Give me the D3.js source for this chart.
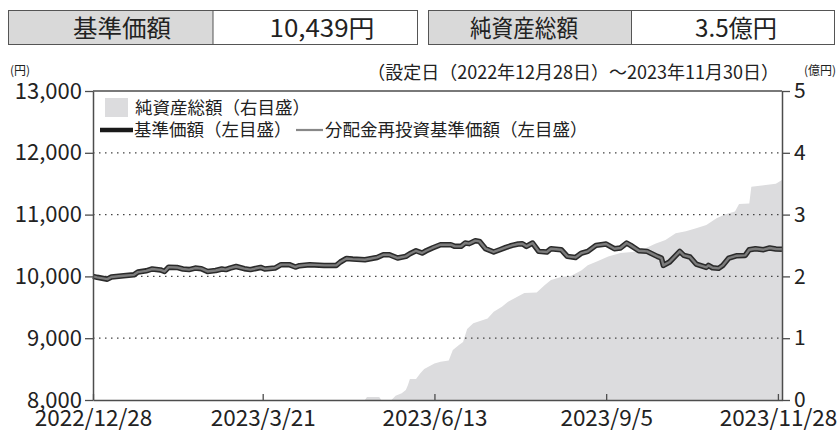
<!DOCTYPE html>
<html>
<head>
<meta charset="utf-8">
<script src="https://cdn.jsdelivr.net/npm/d3@7"></script>
<style>
  html, body { margin: 0; padding: 0; background: #fff; }
  svg { display: block; font-family: "Noto Sans CJK JP", "Noto Sans", sans-serif; }
</style>
</head>
<body>
<svg id="chart" width="837" height="431"></svg>
<script>
// 基準価額 / 分配金再投資基準価額 (円)
const navDates = [
  "2022-12-28","2022-12-30","2023-01-04","2023-01-06","2023-01-12","2023-01-17","2023-01-19","2023-01-23","2023-01-26","2023-01-30",
  "2023-02-01","2023-02-03","2023-02-07","2023-02-10","2023-02-13","2023-02-16","2023-02-19","2023-02-22","2023-02-26","2023-03-01",
  "2023-03-03","2023-03-05","2023-03-08","2023-03-12","2023-03-15","2023-03-20","2023-03-22","2023-03-27","2023-03-30","2023-04-03",
  "2023-04-06","2023-04-08","2023-04-13","2023-04-20","2023-04-26","2023-04-28","2023-05-01","2023-05-04","2023-05-10","2023-05-16",
  "2023-05-19","2023-05-22","2023-05-26","2023-05-30","2023-06-01","2023-06-04","2023-06-07","2023-06-09","2023-06-12","2023-06-16",
  "2023-06-21","2023-06-23","2023-06-26","2023-06-28","2023-06-30","2023-07-03","2023-07-05","2023-07-08","2023-07-12","2023-07-15",
  "2023-07-18","2023-07-21","2023-07-24","2023-07-26","2023-07-28","2023-07-31","2023-08-03","2023-08-07","2023-08-09","2023-08-14",
  "2023-08-17","2023-08-21","2023-08-24","2023-08-27","2023-08-31","2023-09-05","2023-09-09","2023-09-12","2023-09-15","2023-09-17",
  "2023-09-21","2023-09-25","2023-09-30","2023-10-02","2023-10-03","2023-10-06","2023-10-11","2023-10-13","2023-10-16","2023-10-19",
  "2023-10-24","2023-10-25","2023-10-27","2023-10-30","2023-11-01","2023-11-04","2023-11-08","2023-11-12","2023-11-14","2023-11-17",
  "2023-11-21","2023-11-24","2023-11-27","2023-11-30"
];
const navValues = [
  10000, 9985, 9955, 9990,10010,10025,10070,10090,10120,10105,
  10080,10150,10145,10120,10110,10135,10125,10080,10095,10120,
  10110,10135,10160,10125,10110,10145,10120,10135,10190,10190,
  10152,10173,10190,10178,10178,10233,10290,10280,10270,10307,
  10350,10350,10297,10324,10367,10415,10378,10415,10460,10513,
  10513,10486,10486,10540,10530,10578,10567,10448,10395,10432,
  10470,10502,10524,10529,10486,10540,10405,10395,10448,10432,
  10324,10307,10378,10405,10502,10524,10448,10460,10540,10502,
  10415,10405,10324,10297,10178,10233,10405,10340,10314,10200,
  10146,10178,10140,10130,10178,10297,10335,10340,10432,10448,
  10432,10460,10443,10439
];

// 純資産総額 (億円)
const aumDates = [
  "2022-12-28","2023-05-10","2023-05-11","2023-05-17","2023-05-18","2023-05-23","2023-05-25","2023-05-28","2023-05-30","2023-05-31",
  "2023-06-01","2023-06-04","2023-06-06","2023-06-08","2023-06-13","2023-06-16","2023-06-20","2023-06-22","2023-06-25","2023-06-27",
  "2023-06-29","2023-07-02","2023-07-09","2023-07-12","2023-07-16","2023-07-19","2023-07-24","2023-07-27","2023-08-02","2023-08-06",
  "2023-08-09","2023-08-14","2023-08-19","2023-08-24","2023-08-27","2023-09-01","2023-09-06","2023-09-12","2023-09-19","2023-09-24",
  "2023-09-29","2023-10-04","2023-10-09","2023-10-14","2023-10-19","2023-10-24","2023-10-29","2023-11-02","2023-11-07","2023-11-09",
  "2023-11-14","2023-11-15","2023-11-22","2023-11-27","2023-11-30"
];
const aumValues = [
  0, 0, 0.05, 0.05, 0, 0, 0.07, 0.11, 0.16, 0.24,
  0.34, 0.34, 0.43, 0.50, 0.59, 0.62, 0.64, 0.81, 0.89, 0.94,
  1.15, 1.24, 1.32, 1.43, 1.51, 1.59, 1.68, 1.73, 1.74, 1.86,
  1.94, 1.99, 2.01, 2.10, 2.18, 2.25, 2.32, 2.38, 2.40, 2.45,
  2.53, 2.59, 2.70, 2.73, 2.78, 2.83, 2.94, 3.00, 3.05, 3.17,
  3.18, 3.45, 3.48, 3.50, 3.56
];

const xTickDates = ["2022-12-28","2023-03-21","2023-06-13","2023-09-05","2023-11-28"];
const leftTicks = [8000, 9000, 10000, 11000, 12000, 13000];
const rightTicks = [0, 1, 2, 3, 4, 5];
const gridTicks = [9000, 10000, 11000, 12000];

const headerLabels = ["基準価額", "純資産総額"];
const headerValues = ["10,439円", "3.5億円"];

const parse = d3.timeParse("%Y-%m-%d");
const fmtTick = d3.timeFormat("%Y/%-m/%-d");
const nav = navDates.map((d, i) => ({ date: parse(d), v: navValues[i] }));
const aum = aumDates.map((d, i) => ({ date: parse(d), v: aumValues[i] }));

const svg = d3.select("#chart");
const AXIS = "#4d4d4d";
const TEXT = "#222";

// plot frame
const L = 93, R = 782, T = 91, B = 400;

const x = d3.scaleTime()
  .domain([parse("2022-12-28"), parse("2023-11-30")])
  .range([L, R]);
const yL = d3.scaleLinear().domain([8000, 13000]).range([B, T]);
const yR = d3.scaleLinear().domain([0, 5]).range([B, T]);

// ---- header boxes ----
// label/value text widths & centres measured off the original (glyphs are condensed there)
const boxes = [
  { x: 8, w: 410, lc: 122, lw: 98, vc: 322, vw: 105 },
  { x: 428, w: 407, lc: 524, lw: 108, vc: 736, vw: 82 }
];
boxes.forEach((b, i) => {
  const g = svg.append("g");
  const half = b.w / 2;
  g.append("rect").attr("x", b.x).attr("y", 10).attr("width", half).attr("height", 35)
    .attr("fill", "#d9d9d9");
  g.append("rect").attr("x", b.x + 0.5).attr("y", 10.5).attr("width", b.w - 1).attr("height", 34)
    .attr("fill", "none").attr("stroke", "#555").attr("stroke-width", 1);
  g.append("line").attr("x1", b.x + half).attr("x2", b.x + half).attr("y1", 10).attr("y2", 45)
    .attr("stroke", "#555");
  g.append("text").attr("x", b.lc - b.lw / 2).attr("y", 37)
    .attr("textLength", b.lw).attr("lengthAdjust", "spacingAndGlyphs")
    .attr("fill", TEXT).style("font-size", "24px")
    .text(headerLabels[i]);
  g.append("text").attr("x", b.vc - b.vw / 2).attr("y", 37)
    .attr("textLength", b.vw).attr("lengthAdjust", "spacingAndGlyphs")
    .attr("fill", TEXT).style("font-size", "24px")
    .text(headerValues[i]);
});

// ---- unit labels & period ----
svg.append("text").attr("x", 10).attr("y", 75).attr("fill", TEXT)
  .style("font-size", "12px").text("(円)");
svg.append("text").attr("x", 836).attr("y", 75).attr("text-anchor", "end").attr("fill", TEXT)
  .style("font-size", "12px").text("(億円)");
svg.append("text").attr("x", 779).attr("y", 79).attr("text-anchor", "end").attr("fill", TEXT)
  .style("font-size", "18px").text("（設定日（2022年12月28日）～2023年11月30日）");

// ---- net asset area ----
const area = d3.area()
  .x(d => x(d.date))
  .y0(yR(0))
  .y1(d => yR(d.v));
svg.append("path").datum(aum).attr("d", area).attr("fill", "#dcdcde");

// ---- gridlines ----
svg.append("g").selectAll("line").data(gridTicks).join("line")
  .attr("x1", L).attr("x2", R)
  .attr("y1", d => yL(d)).attr("y2", d => yL(d))
  .attr("stroke", "#444").attr("stroke-width", 1.3)
  .attr("stroke-dasharray", "1.5 4.5");

// ---- lines ----
const line = d3.line().x(d => x(d.date)).y(d => yL(d.v));
svg.append("path").datum(nav).attr("d", line)
  .attr("fill", "none").attr("stroke", "#2b2b2b").attr("stroke-width", 5.5)
  .attr("stroke-linejoin", "round");
svg.append("path").datum(nav).attr("d", line)
  .attr("fill", "none").attr("stroke", "#7c7c7c").attr("stroke-width", 2.4)
  .attr("stroke-linejoin", "round");

// ---- axes ----
function styleAxis(g, size) {
  g.selectAll(".domain").attr("stroke", AXIS).attr("stroke-width", 1.5);
  g.selectAll(".tick line").attr("stroke", AXIS).attr("stroke-width", 1.3);
  g.selectAll(".tick text").attr("fill", TEXT).style("font-size", size)
    .style("font-family", '"Noto Sans CJK JP", "Noto Sans", sans-serif');
}

svg.append("g").attr("transform", `translate(${L},0)`)
  .call(d3.axisLeft(yL).tickValues(leftTicks).tickSize(8).tickSizeOuter(0)
    .tickPadding(3).tickFormat(d3.format(",")))
  .call(g => styleAxis(g, "22px"));

svg.append("g").attr("transform", `translate(${R},0)`)
  .call(d3.axisRight(yR).tickValues(rightTicks).tickSize(8).tickSizeOuter(0)
    .tickPadding(4).tickFormat(d3.format("d")))
  .call(g => styleAxis(g, "21px"));

svg.append("g").attr("transform", `translate(0,${B})`)
  .call(d3.axisBottom(x).tickValues(xTickDates.map(parse)).tickSize(-6).tickSizeOuter(0)
    .tickPadding(10).tickFormat(fmtTick))
  .call(g => styleAxis(g, "22.5px"));

// top frame line
svg.append("line").attr("x1", L).attr("x2", R).attr("y1", T).attr("y2", T)
  .attr("stroke", AXIS).attr("stroke-width", 1.5);

// ---- legend ----
const lg = svg.append("g").style("font-size", "17.5px").attr("fill", TEXT);
lg.append("rect").attr("x", 105).attr("y", 98).attr("width", 23).attr("height", 19)
  .attr("fill", "#dcdcde");
lg.append("text").attr("x", 135).attr("y", 114).text("純資産総額（右目盛）");
lg.append("line").attr("x1", 100).attr("x2", 133).attr("y1", 130).attr("y2", 130)
  .attr("stroke", "#1a1a1a").attr("stroke-width", 4.5);
lg.append("text").attr("x", 134).attr("y", 136).text("基準価額（左目盛）");
lg.append("line").attr("x1", 296).attr("x2", 323).attr("y1", 130).attr("y2", 130)
  .attr("stroke", "#888").attr("stroke-width", 2.2);
lg.append("text").attr("x", 325).attr("y", 136).text("分配金再投資基準価額（左目盛）");
</script>
</body>
</html>
